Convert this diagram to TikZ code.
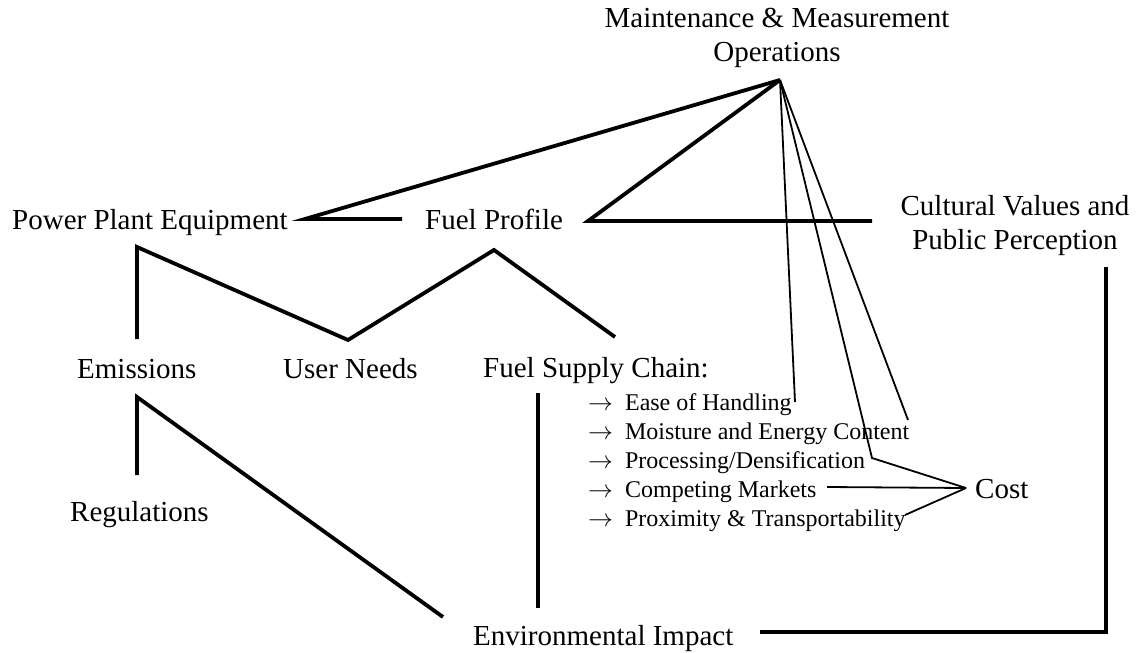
\documentclass[tikz,border=0pt]{standalone}
\usepackage{fontspec}
\setmainfont{Liberation Serif}
\usepackage{tikz}
\usetikzlibrary{positioning, calc}
\tikzset{
    concept/.style={inner sep=0pt, font=\fontsize{29}{34}\selectfont},
    factor/.style={inner sep=0pt, anchor=base west, font=\fontsize{24}{29}\selectfont},
    thicklink/.style={line width=3.8pt, black},
    thinlink/.style={line width=1.8pt, black}
}

\begin{document}
\begin{tikzpicture}[x=1pt, y=-1pt]
    \useasboundingbox (0,0) rectangle (1143,653);
    % texts
    \node[concept, align=center] (maint) at (777,38) {Maintenance \& Measurement\\Operations};
    \node[concept, anchor=base west] (plant) at (12,229) {Power Plant Equipment};
    \node[concept, anchor=base west] (profile) at (425,229) {Fuel Profile};
    \node[concept, align=center] (culture) at (1015,226) {Cultural Values and\\Public Perception};
    \node[concept, anchor=base west] (emis) at (77,378) {Emissions};
    \node[concept, anchor=base west] (needs) at (283,378) {User Needs};
    \node[concept, anchor=base west] (supply) at (483,377) {Fuel Supply Chain:};
    \node[concept, anchor=base west] (regs) at (70,521) {Regulations};
    \node[concept, anchor=base west] (cost) at (975,498) {Cost};
    \node[concept, anchor=base west] (envir) at (473,645) {Environmental Impact};
    \node[factor] (handling) at (588,410) {$\rightarrow$\hspace{12pt}Ease of Handling};
    \node[factor] (moisture) at (588,439) {$\rightarrow$\hspace{12pt}Moisture and Energy Content};
    \node[factor] (process) at (588,468) {$\rightarrow$\hspace{12pt}Processing/Densification};
    \node[factor] (markets) at (588,497) {$\rightarrow$\hspace{12pt}Competing Markets};
    \node[factor] (proxim) at (588,526) {$\rightarrow$\hspace{12pt}Proximity \& Transportability};

    % line ends
    \coordinate (apex) at (780,80);
    \coordinate (plant-r) at (305,219);
    \coordinate (profile-l) at (402,219);
    \coordinate (profile-r) at (588,221);
    \coordinate (culture-l) at (872,221);
    \coordinate (plant-b) at (137,247);
    \coordinate (emis-t) at (137,339);
    \coordinate (needs-t) at (348,340);
    \coordinate (profile-b) at (494,250);
    \coordinate (supply-t) at (615,337);
    \coordinate (emis-b) at (137,397);
    \coordinate (regs-t) at (137,475);
    \coordinate (envir-l) at (443,617);
    \coordinate (supply-b) at (538,393);
    \coordinate (envir-t) at (538,608);
    \coordinate (culture-b) at (1106,267);
    \coordinate (corner) at (1106,632);
    \coordinate (envir-r) at (760,632);
    \coordinate (handling-r) at (795,402);
    \coordinate (moisture-r) at (908,420);
    \coordinate (process-r) at (872,458);
    \coordinate (markets-r) at (827,487);
    \coordinate (proxim-r) at (905,515);
    \coordinate (cost-l) at (966,488);

    % thick connectors
    \draw[thicklink] (apex) -- (plant-r) -- (profile-l);
    \draw[thicklink] (apex) -- (profile-r) -- (culture-l);
    \draw[thicklink] (emis-t) -- (plant-b) -- (needs-t) -- (profile-b) -- (supply-t);
    \draw[thicklink] (regs-t) -- (emis-b) -- (envir-l);
    \draw[thicklink] (supply-b) -- (envir-t);
    \draw[thicklink] (culture-b) -- (corner) -- (envir-r);
    % thin connectors
    \draw[thinlink] (apex) -- (handling-r);
    \draw[thinlink] (apex) -- (moisture-r);
    \draw[thinlink] (apex) -- (process-r) -- (cost-l);
    \draw[thinlink] (markets-r) -- (cost-l);
    \draw[thinlink] (proxim-r) -- (cost-l);
\end{tikzpicture}
\end{document}
